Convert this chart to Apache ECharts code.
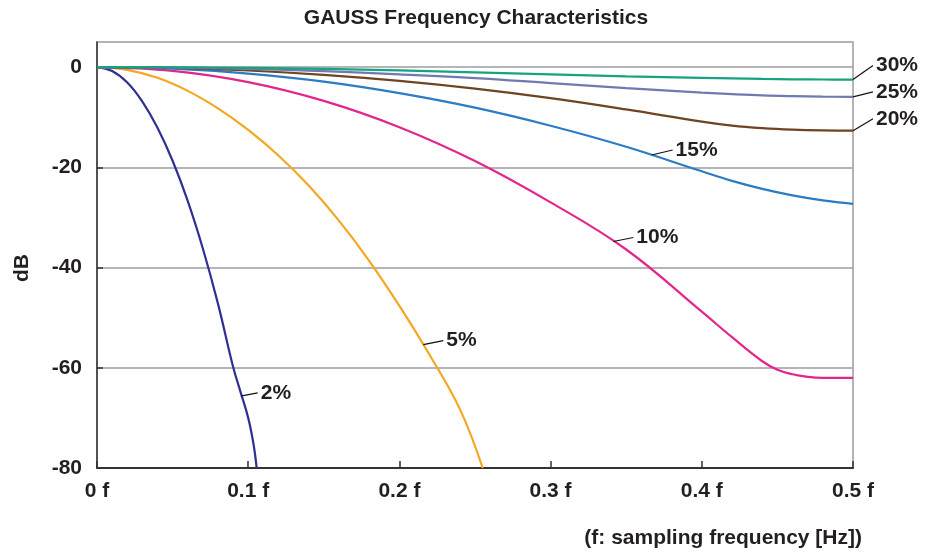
<!DOCTYPE html>
<html><head><meta charset="utf-8">
<script src="https://cdn.jsdelivr.net/npm/echarts@6.0.0/dist/echarts.min.js"></script>
<style>html,body{margin:0;padding:0;background:#fff}#c{width:928px;height:558px}</style>
</head><body><div id="c"></div>
<script>
// ---- data ----
const titleText = 'GAUSS Frequency Characteristics';
const yTicks = [0, -20, -40, -60, -80];
const xTicks = [0, 0.1, 0.2, 0.3, 0.4, 0.5];

const freq2  = [0, 0.01, 0.02, 0.03, 0.04, 0.05, 0.06, 0.07, 0.08, 0.09, 0.095, 0.1, 0.1035, 0.1056];
const db2    = [0, -0.8, -3.1, -6.9, -12.1, -18.7, -26.7, -36.2, -47.2, -59.8, -64.9, -70.0, -75.2, -80];
const freq5  = [0, 0.02, 0.04, 0.06, 0.08, 0.10, 0.12, 0.14, 0.16, 0.18, 0.20, 0.22, 0.24, 0.2551];
const db5    = [0, -0.55, -2.15, -4.75, -8.25, -12.55, -17.65, -23.65, -30.65, -38.65, -47.65, -57.45, -68.25, -80];
const freq10 = [0, 0.05, 0.1, 0.15, 0.2, 0.25, 0.3, 0.35, 0.4, 0.42, 0.44, 0.45, 0.46, 0.47, 0.48, 0.5];
const db10   = [0, -0.75, -3.0, -6.75, -12.0, -18.75, -27.0, -36.4, -48.8, -53.9, -58.7, -60.4, -61.3, -61.8, -62.0, -62.0];
const freqHi = [0, 0.05, 0.1, 0.15, 0.2, 0.25, 0.3, 0.35, 0.4, 0.42, 0.44, 0.46, 0.48, 0.5];
const db15   = [0, -0.33, -1.3, -2.9, -5.2, -8.1, -11.7, -15.9, -20.8, -22.7, -24.3, -25.6, -26.6, -27.3];
const db20   = [0, -0.17, -0.69, -1.55, -2.76, -4.3, -6.2, -8.45, -10.9, -11.7, -12.2, -12.5, -12.65, -12.7];
const db25   = [0, -0.1, -0.35, -0.8, -1.45, -2.2, -3.2, -4.2, -5.1, -5.4, -5.65, -5.8, -5.9, -5.95];
const db30   = [0, -0.04, -0.17, -0.38, -0.68, -1.05, -1.45, -1.85, -2.15, -2.27, -2.37, -2.44, -2.48, -2.5];

const seriesNames = ['2%', '5%', '10%', '15%', '20%', '25%', '30%'];
const seriesFreq  = [freq2, freq5, freq10, freqHi, freqHi, freqHi, freqHi];
const seriesDb    = [db2, db5, db10, db15, db20, db25, db30];
// frequency on each curve where its label's leader line starts
const labelAnchorFreq = [0.0957, 0.2158, 0.3415, 0.3668, 0.5, 0.5, 0.5];

// ---- styling ----
const colors = ['#2e3192', '#f5a623', '#e2268b', '#2b7cc4', '#6e4423', '#7079b0', '#16a37e'];
const leaderOffsets = [[16, -3], [20, -4], [20, -4], [21, -5], [20, -12], [20, -5], [20, -14]];
const FONT = '"Liberation Sans", Arial, Helvetica, sans-serif';
const TXT = '#231f20';

const chart = echarts.init(document.getElementById('c'));

const series = seriesNames.map((n, i) => ({
  name: n,
  type: 'line',
  data: seriesFreq[i].map((f, j) => [f, seriesDb[i][j]]),
  smooth: 0.4,
  showSymbol: false,
  symbol: 'none',
  silent: true,
  lineStyle: { color: colors[i], width: 2.2 },
  z: 2 + i
}));

chart.setOption({
  animation: false,
  backgroundColor: '#fff',
  grid: { left: 97, right: 75, top: 42, bottom: 90, show: true, borderColor: '#9a9ca0', borderWidth: 1.5 },
  xAxis: {
    type: 'value', min: 0, max: 0.5, interval: 0.1,
    axisLine: { show: true, onZero: false, lineStyle: { color: '#333', width: 2 } },
    axisTick: { show: true, inside: true, length: 7, lineStyle: { color: '#333', width: 1.5 } },
    splitLine: { show: false },
    axisLabel: {
      margin: 13, color: TXT, fontFamily: FONT, fontWeight: 'bold', fontSize: 21,
      formatter: v => (v === 0 ? '0' : v.toFixed(1)) + ' f'
    }
  },
  yAxis: {
    type: 'value', min: -80, max: 5, interval: 20,
    axisLine: { show: true, onZero: false, lineStyle: { color: '#333', width: 1.5 } },
    axisTick: { show: true, inside: true, length: 6, customValues: yTicks, lineStyle: { color: '#333', width: 1.5 } },
    splitLine: { show: true, lineStyle: { color: '#9a9ca0', width: 1.5 } },
    axisLabel: {
      margin: 15, color: TXT, fontFamily: FONT, fontWeight: 'bold', fontSize: 21,
      customValues: yTicks,
      formatter: v => String(v)
    }
  },
  series: series
});

function interp(xs, ys, x) {
  for (let k = 1; k < xs.length; k++) {
    if (x <= xs[k]) {
      const t = (x - xs[k - 1]) / (xs[k] - xs[k - 1]);
      return ys[k - 1] + t * (ys[k] - ys[k - 1]);
    }
  }
  return ys[ys.length - 1];
}

const graphics = [
  { type: 'text', x: 476, y: 18, style: { text: titleText, fill: TXT, font: 'bold 21px ' + FONT, textAlign: 'center', textVerticalAlign: 'middle' } },
  { type: 'text', x: 22, y: 268, rotation: Math.PI / 2, style: { text: 'dB', fill: TXT, font: 'bold 21px ' + FONT, textAlign: 'center', textVerticalAlign: 'middle' } },
  { type: 'text', x: 862, y: 538, style: { text: '(f: sampling frequency [Hz])', fill: TXT, font: 'bold 21px ' + FONT, textAlign: 'right', textVerticalAlign: 'middle' } }
];

seriesNames.forEach((n, i) => {
  const f = labelAnchorFreq[i];
  const p = chart.convertToPixel({ gridIndex: 0 }, [f, interp(seriesFreq[i], seriesDb[i], f)]);
  const ex = p[0] + leaderOffsets[i][0], ey = p[1] + leaderOffsets[i][1];
  graphics.push({ type: 'line', z: 100, shape: { x1: p[0], y1: p[1], x2: ex, y2: ey }, style: { stroke: '#111', lineWidth: 1.2 } });
  graphics.push({ type: 'text', z: 100, x: ex + 3, y: ey, style: { text: n, fill: TXT, font: 'bold 21px ' + FONT, textAlign: 'left', textVerticalAlign: 'middle' } });
});

chart.setOption({ graphic: graphics });
</script>
</body></html>
